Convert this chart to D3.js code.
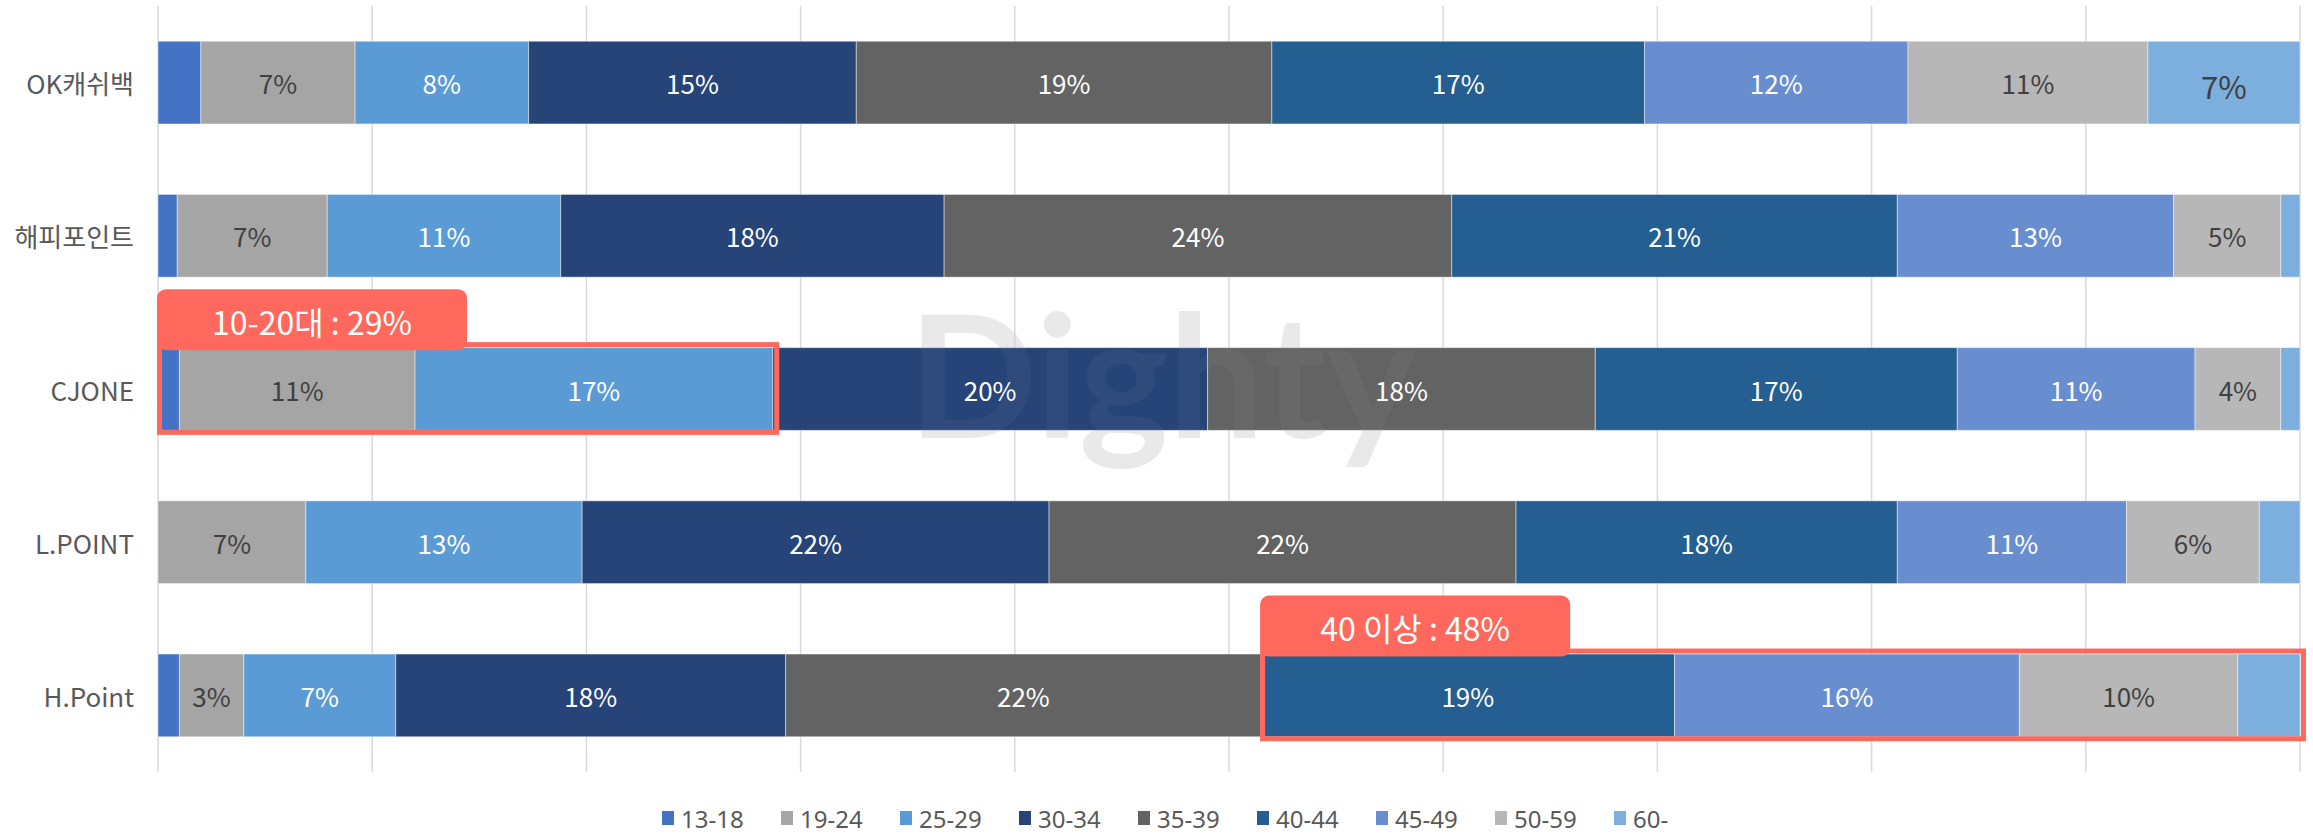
<!DOCTYPE html>
<html>
<head>
<meta charset="utf-8">
<script src="https://cdn.jsdelivr.net/npm/d3@7/dist/d3.min.js"></script>
<style>
  html, body { margin: 0; padding: 0; background: #fff; }
  svg { display: block; }
  text { font-family: "Noto Sans CJK KR", "Noto Sans", sans-serif; }
</style>
</head>
<body>
<svg id="chart" width="2313" height="836"></svg>
<script>
// ---- data ----
const categories = ["OK캐쉬백", "해피포인트", "CJONE", "L.POINT", "H.Point"];
const seriesNames = ["13-18", "19-24", "25-29", "30-34", "35-39", "40-44", "45-49", "50-59", "60-"];
const s13_18 = [2.0, 0.9, 1.0, 0.0, 1.0];
const s19_24 = [7.2, 7.0, 11.0, 6.9, 3.0];
const s25_29 = [8.1, 10.9, 16.7, 12.9, 7.1];
const s30_34 = [15.3, 17.9, 20.3, 21.8, 18.2];
const s35_39 = [19.4, 23.7, 18.1, 21.8, 22.2];
const s40_44 = [17.4, 20.8, 16.9, 17.8, 19.3];
const s45_49 = [12.3, 12.9, 11.1, 10.7, 16.1];
const s50_59 = [11.2, 5.0, 4.0, 6.2, 10.2];
const s60 = [7.1, 0.9, 0.9, 1.9, 2.9];
const seriesValues = [s13_18, s19_24, s25_29, s30_34, s35_39, s40_44, s45_49, s50_59, s60];
const xTicks = [0, 10, 20, 30, 40, 50, 60, 70, 80, 90, 100];
const annoTexts = ["10-20대 : 29%", "40 이상 : 48%"];
const annoRows = ["CJONE", "H.Point"];
const annoFrom = [0, 5];
const annoTo = [3, 9];

// ---- styles ----
const colors = ["#4472C4", "#A5A5A5", "#5B9BD5", "#264478", "#636363", "#255E91", "#698ED0", "#B7B7B7", "#7CAFDD"];
const darkLabel = new Set(["19-24", "50-59", "60-"]);
const annoColor = "#FF685C";

const svg = d3.select("#chart");
const plotLeft = 158, plotRight = 2300, plotTop = 6, plotBottom = 772;

const x = d3.scaleLinear().domain([0, 100]).range([plotLeft, plotRight]);
const y = d3.scaleBand().domain(categories).range([plotTop, plotBottom]).paddingInner(0.46).paddingOuter(0.23);

// watermark (behind)
svg.append("text")
  .attr("x", 908).attr("y", 438)
  .attr("textLength", 508).attr("lengthAdjust", "spacingAndGlyphs")
  .style("font-family", "Lato, 'Noto Sans', sans-serif")
  .style("font-weight", "bold").style("font-size", "170px")
  .attr("fill", "#ececec").text("Dighty");

// gridlines
svg.append("g").selectAll("line").data(xTicks).join("line")
  .attr("x1", d => x(d)).attr("x2", d => x(d))
  .attr("y1", plotTop).attr("y2", plotBottom)
  .attr("stroke", "#d9d9d9").attr("stroke-width", 1.5);

// stacked data
const rows = categories.map((c, i) => {
  const o = { cat: c };
  seriesNames.forEach((s, j) => o[s] = seriesValues[j][i]);
  return o;
});
const stacked = d3.stack().keys(seriesNames)(rows);

const g = svg.append("g");
stacked.forEach((layer, j) => {
  const gg = g.append("g").attr("fill", colors[j]);
  gg.selectAll("rect").data(layer).join("rect")
    .attr("x", d => x(d[0]))
    .attr("width", d => Math.max(0, x(d[1]) - x(d[0])))
    .attr("y", d => y(d.data.cat))
    .attr("height", y.bandwidth())
    .attr("stroke", "#ffffff").attr("stroke-opacity", 0.45).attr("stroke-width", 1);
});

// watermark overlay (faint)
svg.append("text")
  .attr("x", 908).attr("y", 438)
  .attr("textLength", 508).attr("lengthAdjust", "spacingAndGlyphs")
  .style("font-family", "Lato, 'Noto Sans', sans-serif")
  .style("font-weight", "bold").style("font-size", "170px")
  .attr("fill", "#c0c0c0").attr("fill-opacity", 0.06).text("Dighty");

// data labels
stacked.forEach((layer, j) => {
  const key = seriesNames[j];
  g.append("g").selectAll("text").data(layer.filter(d => (d[1] - d[0]) >= 3)).join("text")
    .attr("x", d => (x(d[0]) + x(d[1])) / 2)
    .attr("y", d => y(d.data.cat) + y.bandwidth() / 2 + ((key === "60-") ? 3 : 0))
    .attr("text-anchor", "middle").attr("dominant-baseline", "central")
    .style("font-size", key === "60-" ? "31px" : "26px")
    .attr("fill", darkLabel.has(key) ? "#404040" : "#ffffff")
    .text(d => Math.round(d[1] - d[0]) + "%");
});

// category labels
svg.append("g").selectAll("text").data(categories).join("text")
  .attr("x", 134).attr("y", d => y(d) + y.bandwidth() / 2)
  .attr("text-anchor", "end").attr("dominant-baseline", "central")
  .style("font-size", "26px").attr("fill", "#595959")
  .text(d => d);

// annotations
annoTexts.forEach((t, i) => {
  const row = rows[categories.indexOf(annoRows[i])];
  let start = 0, end = 0;
  seriesNames.forEach((s, j) => {
    if (j < annoFrom[i]) start += row[s];
    if (j < annoTo[i]) end += row[s];
  });
  const x0 = x(start) + 1.5, x1 = Math.min(x(end) + 4, x(100) + 3.5);
  const y0 = y(annoRows[i]) - 3, y1 = y(annoRows[i]) + y.bandwidth() + 2;
  svg.append("rect")
    .attr("x", x0).attr("y", y0).attr("width", x1 - x0).attr("height", y1 - y0)
    .attr("fill", "none").attr("stroke", annoColor).attr("stroke-width", 5);
  const tw = 310, th = 61;
  const tx = x0 - 2.5, ty = y0 - 2.5 - th + 8;
  svg.append("rect")
    .attr("x", tx).attr("y", ty).attr("width", tw).attr("height", th)
    .attr("rx", 9).attr("fill", annoColor);
  svg.append("text")
    .attr("x", tx + tw / 2).attr("y", ty + th / 2 + 1)
    .attr("text-anchor", "middle").attr("dominant-baseline", "central")
    .style("font-size", "32px").attr("fill", "#ffffff")
    .text(t);
});

// legend
const lg = svg.append("g").attr("transform", "translate(662,811)");
const item = lg.selectAll("g").data(seriesNames).join("g")
  .attr("transform", (d, i) => `translate(${i * 119},0)`);
item.append("rect").attr("width", 12).attr("height", 14).attr("fill", (d, i) => colors[i]);
item.append("text").attr("x", 19).attr("y", 7).attr("dominant-baseline", "central")
  .style("font-family", "'Noto Sans', sans-serif")
  .style("font-size", "24px").attr("fill", "#595959").text(d => d);
</script>
</body>
</html>
